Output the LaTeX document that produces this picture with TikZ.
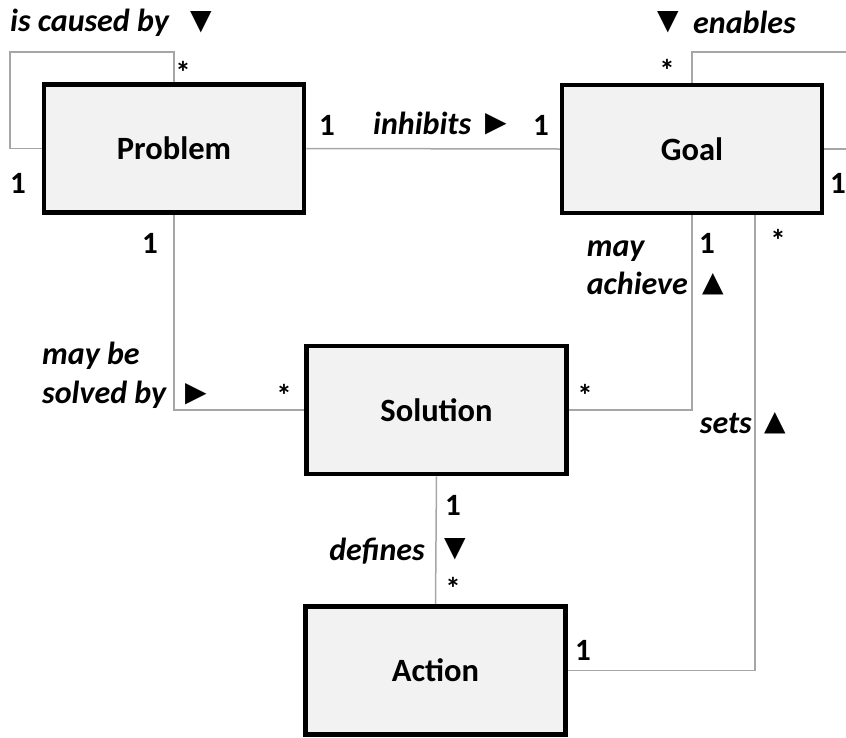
\documentclass[tikz,border=0pt]{standalone}
\usepackage{fontspec}
\setmainfont{Carlito}
\newfontfamily\symfont{DejaVu Sans}
\usetikzlibrary{backgrounds}
\definecolor{boxfill}{HTML}{F2F2F2}
\definecolor{linkgray}{HTML}{A6A6A6}
\begin{document}
\begin{tikzpicture}[x=1pt,y=-1pt,
  cls/.style={draw=black, fill=boxfill, line width=4.5pt, minimum width=260pt, minimum height=128pt, inner sep=0pt, font=\fontsize{32.5}{38}\selectfont\bfseries},
  link/.style={draw=linkgray, line width=1.5pt},
  lbl/.style={inner sep=0pt, font=\fontsize{32}{38}\selectfont\bfseries\itshape},
  mult/.style={inner sep=0pt, font=\fontsize{31}{36}\selectfont\bfseries},
  tri/.style={inner sep=0pt, font=\fontsize{28}{32}\selectfont\symfont}]
\useasboundingbox (0,0) rectangle (846,737);
% classes
\node[cls] (problem) at (174,148.5) {Problem};
\node[cls] (goal) at (692,149) {Goal};
\node[cls] (solution) at (436.5,410) {Solution};
\node[cls] (action) at (435.5,670.5) {Action};
% helper coordinates
\coordinate (pl) at (10,52);
\coordinate (gr) at (860,52);
\coordinate (gs) at ([xshift=63pt]goal.south);
% links
\begin{pgfonlayer}{background}
\draw[link] (problem.west) -| (pl) -| (problem.north);
\draw[link] (goal.north) |- (gr) |- (goal.east);
\draw[link] (problem.east) -- (goal.west);
\draw[link] (problem.south) |- (solution.west);
\draw[link] (solution.east) -| (goal.south);
\draw[link] (gs) |- (action.east);
\draw[link] (solution.south) -- (action.north);
\end{pgfonlayer}
% labels: is caused by
\node[lbl, anchor=base west] (lcause) at (10,31) {is caused by};
\node[tri] (tcause) at (201,22) {▼};
\node[mult] (m1) at (183,72) {*};
\node[mult] (m2) at (18,183) {1};
% inhibits
\node[mult] (m3) at (327,125) {1};
\node[lbl, anchor=base west] (linhib) at (373,134) {inhibits};
\node[tri] (tinhib) at (496,124) {▶};
\node[mult] (m4) at (541,125) {1};
% enables
\node[tri] (tenab) at (668,22) {▼};
\node[lbl, anchor=base west] (lenab) at (693,33) {enables};
\node[mult] (m5) at (667,70) {*};
\node[mult, anchor=east] (m6) at (846,183) {1};
% may achieve
\node[mult] (m7) at (150,243) {1};
\node[lbl, anchor=base east] (lach) at (688,294) {achieve};
\node[lbl, anchor=base west] (lmay) at ([yshift=38pt]lach.base west) {may};
\node[tri] (tach) at (713,284) {▲};
\node[mult] (m8) at (707,243) {1};
\node[mult] (m9) at (778,240) {*};
% may be solved by
\node[lbl, anchor=base west] (lsolv) at (42,403) {solved by};
\node[lbl, anchor=base west] (lmaybe) at ([yshift=39pt]lsolv.base west) {may be};
\node[tri] (tsolv) at (196,394) {▶};
\node[mult] (m10) at (284,395) {*};
\node[mult] (m11) at (585,395) {*};
% sets
\node[lbl, anchor=base east] (lsets) at (752,433) {sets};
\node[tri] (tsets) at (775,423) {▲};
% defines
\node[mult] (m12) at (453,505) {1};
\node[lbl, anchor=base east] (ldef) at (425,560) {defines};
\node[tri] (tdef) at (455,549) {▼};
\node[mult] (m13) at (453,588) {*};
\node[mult] (m14) at (583,650) {1};
\end{tikzpicture}
\end{document}
